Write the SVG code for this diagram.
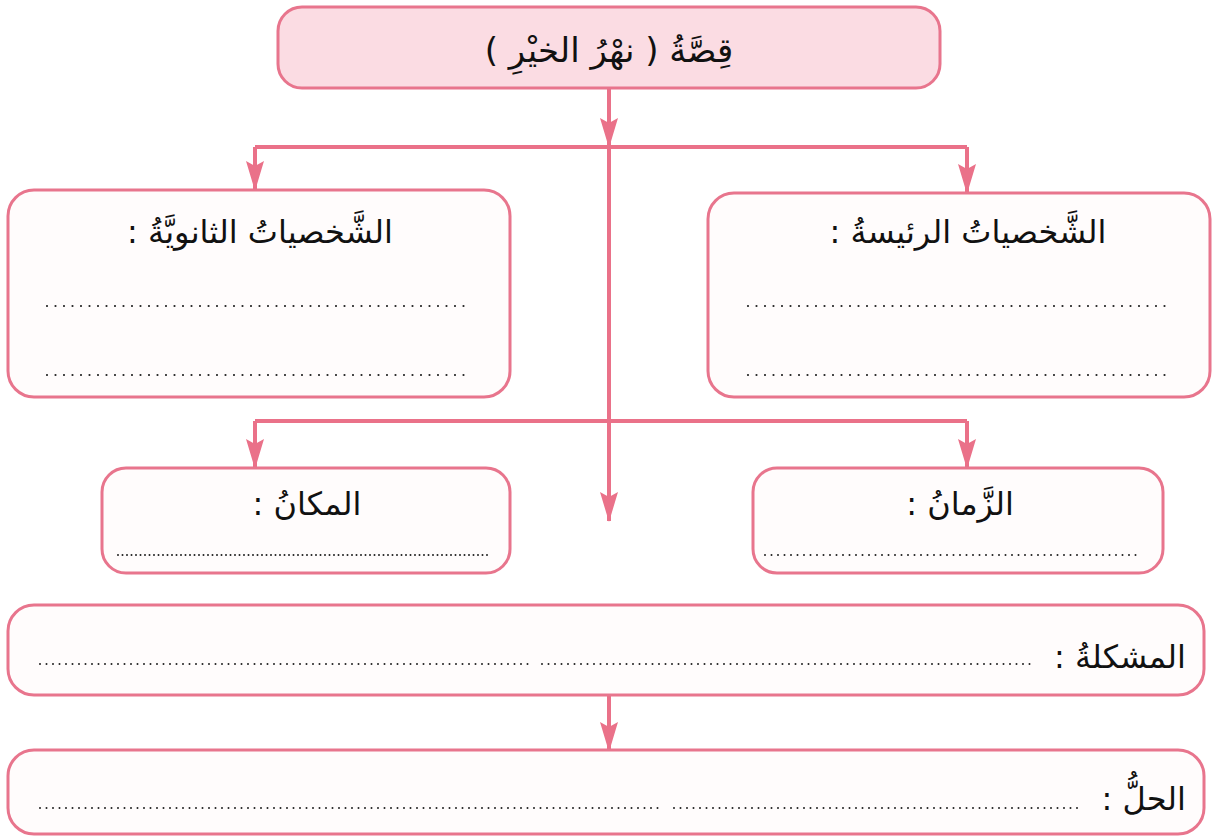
<svg xmlns="http://www.w3.org/2000/svg" width="1214" height="837" viewBox="0 0 1214 837">
  <style>
    .box { fill: #fffcfc; stroke: #e8758d; stroke-width: 3; }
    .top { fill: #fbdce3; stroke: #e8758d; stroke-width: 3; }
    .conn { fill: none; stroke: #ea7189; stroke-width: 4; }
    .lbl { font-family: "DejaVu Sans", sans-serif; font-size: 32px; fill: #111; }
    .ttl { font-size: 34px; }
    .dots { fill: none; stroke: #222; stroke-width: 2.2; stroke-linecap: round; stroke-dasharray: 0 8.5; }
    .dots2 { fill: none; stroke: #222; stroke-width: 2; stroke-linecap: round; stroke-dasharray: 0 4.5; }
    .dots3 { fill: none; stroke: #222; stroke-width: 2; stroke-linecap: round; stroke-dasharray: 0 6.5; }
  </style>
  <defs>
    <marker id="arr" viewBox="0 0 30 18" refX="29" refY="9" markerWidth="30" markerHeight="18" markerUnits="userSpaceOnUse" orient="auto">
      <path d="M0 0 L30 9 L0 18 L5 9 Z" fill="#ea7189"/>
    </marker>
  </defs>

  <g id="connectors">
    <path class="conn" d="M609 88 V147" marker-end="url(#arr)"/>
    <path class="conn" d="M255 147 H967"/>
    <path class="conn" d="M255 147 V190" marker-end="url(#arr)"/>
    <path class="conn" d="M967 147 V193" marker-end="url(#arr)"/>
    <path class="conn" d="M609 147 V521" marker-end="url(#arr)"/>
    <path class="conn" d="M255 421 H967"/>
    <path class="conn" d="M255 421 V468" marker-end="url(#arr)"/>
    <path class="conn" d="M967 421 V468" marker-end="url(#arr)"/>
    <path class="conn" d="M609 695 V751" marker-end="url(#arr)"/>
  </g>

  <g id="story">
    <rect class="top" x="278" y="7" width="662" height="81" rx="24"/>
    <text class="lbl ttl" x="609" y="62" text-anchor="middle" direction="rtl">قِصَّةُ ( نهْرُ الخيْرِ )</text>
  </g>

  <g id="secondary">
    <rect class="box" x="8" y="190" width="502" height="207" rx="26"/>
    <text class="lbl" x="260" y="243" text-anchor="middle" direction="rtl">الشَّخصياتُ الثانويَّةُ :</text>
    <line class="dots" x1="47" y1="306" x2="470" y2="306"/>
    <line class="dots" x1="47" y1="375" x2="470" y2="375"/>
  </g>

  <g id="main-characters">
    <rect class="box" x="708" y="193" width="502" height="204" rx="26"/>
    <text class="lbl" x="968" y="243" text-anchor="middle" direction="rtl">الشَّخصياتُ الرئيسةُ :</text>
    <line class="dots" x1="748" y1="306" x2="1172" y2="306"/>
    <line class="dots" x1="748" y1="375" x2="1172" y2="375"/>
  </g>

  <g id="place">
    <rect class="box" x="102" y="468" width="408" height="105" rx="24"/>
    <text class="lbl" x="307" y="515" text-anchor="middle" direction="rtl">المكانُ :</text>
    <line class="dots2" x1="118" y1="555" x2="488" y2="555"/>
  </g>

  <g id="time">
    <rect class="box" x="753" y="468" width="410" height="105" rx="24"/>
    <text class="lbl" x="960" y="515" text-anchor="middle" direction="rtl">الزَّمانُ :</text>
    <line class="dots3" x1="765" y1="555" x2="1140" y2="555"/>
  </g>

  <g id="problem">
    <rect class="box" x="8" y="605" width="1196" height="90" rx="26"/>
    <text class="lbl" x="1186" y="668" text-anchor="start" direction="rtl">المشكلةُ :</text>
    <line class="dots3" x1="40" y1="664" x2="532" y2="664"/>
    <line class="dots3" x1="542" y1="664" x2="1036" y2="664"/>
  </g>

  <g id="solution">
    <rect class="box" x="8" y="750" width="1196" height="84" rx="26"/>
    <text class="lbl" x="1186" y="810" text-anchor="start" direction="rtl">الحلُّ :</text>
    <line class="dots3" x1="40" y1="808" x2="664" y2="808"/>
    <line class="dots3" x1="674" y1="808" x2="1080" y2="808"/>
  </g>
</svg>
